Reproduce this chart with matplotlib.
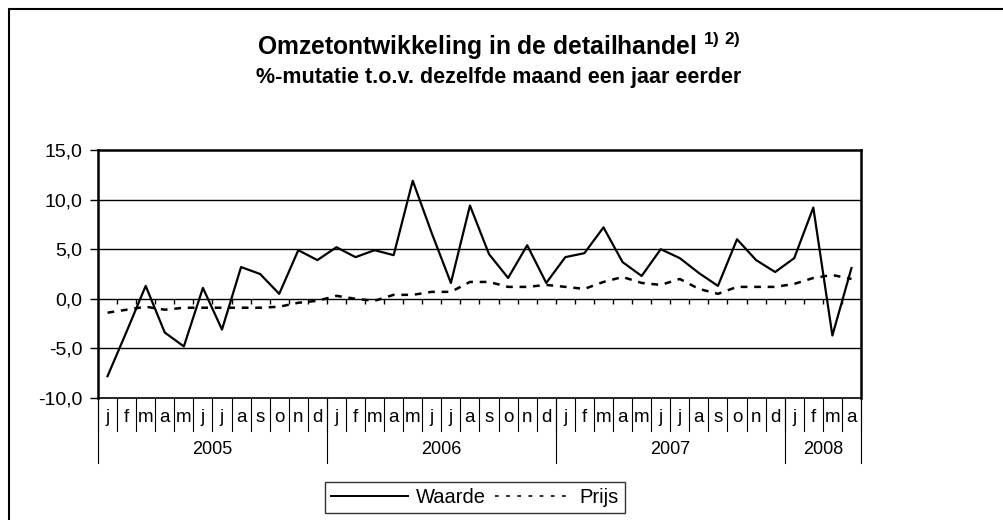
import matplotlib.pyplot as plt
import matplotlib.transforms as mtransforms
from matplotlib.patches import Rectangle
from matplotlib.lines import Line2D
import numpy as np

plt.rcParams['font.family'] = ['Liberation Sans', 'DejaVu Sans']
plt.rcParams['mathtext.fontset'] = 'custom'
plt.rcParams['mathtext.rm'] = 'Liberation Sans'
plt.rcParams['mathtext.bf'] = 'Liberation Sans:bold'

# data: jan 2005 .. apr 2008
months = ["j", "f", "m", "a", "m", "j", "j", "a", "s", "o", "n", "d"] * 3 + ["j", "f", "m", "a"]
years = ["2005", "2006", "2007", "2008"]
year_len = [12, 12, 12, 4]

waarde = [-7.8, -3.3, 1.3, -3.4, -4.8, 1.1, -3.1, 3.2, 2.5, 0.5, 4.9, 3.9,
          5.2, 4.2, 4.9, 4.4, 11.9, 6.6, 1.6, 9.4, 4.5, 2.1, 5.4, 1.6,
          4.2, 4.6, 7.2, 3.7, 2.3, 5.0, 4.1, 2.6, 1.3, 6.0, 3.9, 2.7,
          4.1, 9.2, -3.7, 3.1]
prijs = [-1.4, -1.1, -0.8, -1.1, -0.9, -0.9, -0.9, -0.9, -0.9, -0.8, -0.4, -0.2,
         0.3, 0.0, -0.2, 0.4, 0.4, 0.7, 0.7, 1.7, 1.7, 1.2, 1.2, 1.4,
         1.2, 1.0, 1.7, 2.2, 1.6, 1.4, 2.0, 1.0, 0.5, 1.2, 1.2, 1.2,
         1.5, 2.1, 2.4, 2.0]

W, H = 1004, 520
fig = plt.figure(figsize=(W / 100, H / 100), dpi=100)

# outer frame (only top/left visible in the picture)
fig.patches.append(Rectangle((9 / W, -0.1), 1.2, (H - 9) / H + 0.1, transform=fig.transFigure,
                             fill=False, edgecolor='black', lw=1.5))

ax = fig.add_axes([98 / W, (H - 398) / H, 763 / W, 248 / H])
x = np.arange(len(waarde))
ax.plot(x, waarde, color='black', lw=1.6)
ax.plot(x, prijs, color='black', lw=1.8, dashes=(2.7, 2.7))

ax.set_xlim(-0.5, len(waarde) - 0.5)
ax.set_ylim(-10, 15)
ax.set_yticks([-10, -5, 0, 5, 10, 15])
ax.set_yticklabels([f"{v:.1f}".replace('.', ',') for v in [-10, -5, 0, 5, 10, 15]], fontsize=14)
ax.tick_params(axis='y', length=6, width=1, direction='out', pad=5)
ax.tick_params(axis='x', bottom=False, labelbottom=False)
for v in [-5, 0, 5, 10]:
    ax.axhline(v, color='black', lw=1, zorder=1)
for s in ax.spines.values():
    s.set_linewidth(1.8)
ax.spines['bottom'].set_linewidth(1.2)

# small ticks hanging from the zero line
ax.vlines(np.arange(len(waarde) - 1) + 0.5, -0.55, 0, color='black', lw=1)

# category table below the axis
trans = mtransforms.blended_transform_factory(ax.transData, fig.transFigure)
y_top = (H - 398) / H
y_mon = (H - 431) / H
y_year = (H - 463) / H
for i, m in enumerate(months):
    ax.text(i, (H - 418) / H, m, transform=trans, ha='center', va='center', fontsize=13.5)
for b in range(len(months) + 1):
    ax.plot([b - 0.5, b - 0.5], [y_top, y_mon], transform=trans, color='black', lw=0.8, clip_on=False)
start = 0
for yr, n in zip(years, year_len):
    ax.plot([start - 0.5, start - 0.5], [y_top, y_year], transform=trans, color='black', lw=0.8, clip_on=False)
    ax.text(start + n / 2 - 0.5, (H - 449) / H, yr, transform=trans, ha='center', va='center', fontsize=13)
    start += n
ax.plot([start - 0.5, start - 0.5], [y_top, y_year], transform=trans, color='black', lw=0.8, clip_on=False)

fig.text(0.497, (H - 46) / H, r"Omzetontwikkeling in de detailhandel $^{\mathbf{1)\ 2)}}$",
         ha='center', va='center', fontsize=17.7, fontweight='bold')
fig.text(0.497, (H - 78) / H, "%-mutatie t.o.v. dezelfde maand een jaar eerder",
         ha='center', va='center', fontsize=15.5, fontweight='bold')

handles = [Line2D([], [], color='black', lw=1.4),
           Line2D([], [], color='black', lw=1.2, dashes=(2.2, 4.5))]
leg = fig.legend(handles, ['Waarde', 'Prijs'], loc='upper center',
                 bbox_to_anchor=(475 / W, (H - 482) / H),
                 ncol=2, frameon=True, fancybox=False, fontsize=14.5, handlelength=3.8,
                 handletextpad=0.4, columnspacing=0.45, borderpad=0.3, borderaxespad=0)
leg.get_frame().set_edgecolor('black')
leg.get_frame().set_linewidth(1)

fig.savefig('out.png', dpi=100)
